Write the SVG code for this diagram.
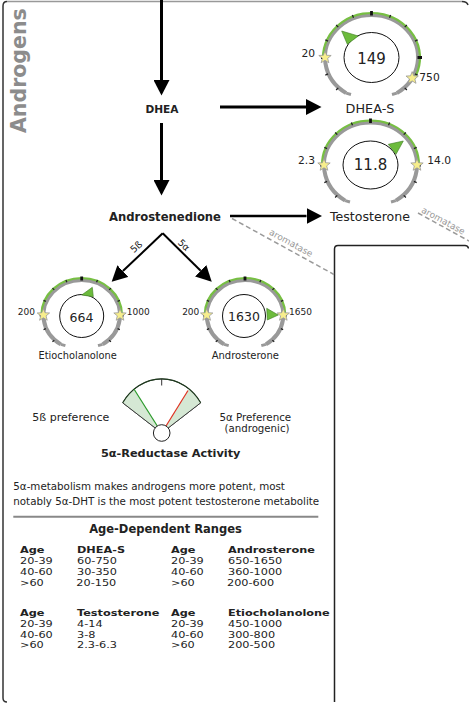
<svg xmlns="http://www.w3.org/2000/svg" width="469" height="703" viewBox="0 0 469 703">
<style>
text{font-family:"DejaVu Sans",Verdana,sans-serif;fill:#222}
.b{font-weight:bold}
.m{text-anchor:middle}
.e{text-anchor:end}
.arc{fill:none;stroke:#999;stroke-width:4}
.hook{fill:none;stroke:#999;stroke-width:3}
.grn{fill:none;stroke:#77bf43;stroke-width:2.2}
.tk{fill:none;stroke:#222;stroke-width:1.3}
.tkM{fill:none;stroke:#111;stroke-width:2.8}
.inner{fill:#fff;stroke:#111;stroke-width:1}
.needle{fill:#6cbb3c;stroke:#3d7a22;stroke-width:0.6}
.star{fill:#f7ee8c;stroke:#999;stroke-width:0.8}
.conn{fill:none;stroke:#000}
.dash{fill:none;stroke:#9a9a9a;stroke-width:1.5;stroke-dasharray:5 3}
.aro{font-size:9px;fill:#999}
.lbl{font-size:10.7px}
.sl{font-size:9px}
.tb{font-size:9.4px}
</style>
<defs>
<marker id="ah" markerUnits="userSpaceOnUse" viewBox="0 -8 15.5 16" refX="0" refY="0" markerWidth="15.5" markerHeight="16" orient="auto"><path d="M0,-8 L15.5,0 L0,8 Z" fill="#000"/></marker>
<polygon id="star" class="star" points="0,-6.5 1.646,-2.265 6.182,-2.009 2.663,0.865 3.821,5.259 0,2.8 -3.821,5.259 -2.663,0.865 -6.182,-2.009 -1.646,-2.265"/>
<g id="bigBase">
<path class="arc" d="M-25.32,35.64 A46.5,42.5 0 1 1 25.32,35.64"/>
<path class="hook" d="M-25.32,35.64 L-20.5,37 M25.32,35.64 L20.5,37"/>
</g>
<g id="bigTicks">
<path class="tk" d="M17.99,-39.73 L19.14,-42.5 M33.23,-30.41 L35.36,-32.53 M43.42,-16.46 L46.2,-17.6 M43.42,16.46 L46.2,17.6 M33.23,30.41 L35.36,32.53 M-17.99,-39.73 L-19.14,-42.5 M-33.23,-30.41 L-35.36,-32.53 M-43.42,-16.46 L-46.2,-17.6 M-43.42,16.46 L-46.2,17.6 M-33.23,30.41 L-35.36,32.53"/>
<path class="tkM" d="M0,-42 L0,-46.5 M46,0 L50.5,0 M-46,0 L-50.5,0"/>
</g>
<g id="smBase">
<path class="arc" d="M-20.86,29.35 A38.3,35 0 1 1 20.86,29.35"/>
<path class="hook" d="M-20.86,29.35 L-16.3,30.6 M20.86,29.35 L16.3,30.6"/>
</g>
<g id="smTicks">
<path class="tk" d="M14.85,-32.8 L15.81,-35.11 M27.44,-25.1 L29.2,-26.87 M35.85,-13.59 L38.16,-14.54 M35.85,13.59 L38.16,14.54 M27.44,25.1 L29.2,26.87 M-14.85,-32.8 L-15.81,-35.11 M-27.44,-25.1 L-29.2,-26.87 M-35.85,-13.59 L-38.16,-14.54 M-35.85,13.59 L-38.16,14.54 M-27.44,25.1 L-29.2,26.87"/>
<path class="tkM" d="M0,-34.5 L0,-38.5 M38,0 L42,0 M-38,0 L-42,0"/>
</g>
</defs>

<g id="frame">
<path d="M7,702 Q3,702 3,698 L3,6 Q3,1.5 7,1.5" fill="none" stroke="#333" stroke-width="1.5"/>
<path d="M7,1.5 L462,1.5" fill="none" stroke="#999" stroke-width="1.5"/>
<path d="M462,1.5 Q467,1.5 468,5" fill="none" stroke="#333" stroke-width="1.5"/>
<path d="M334.5,702 L334.5,249 Q334.5,245.5 338,245.5 L465,245.5 Q468,245.5 468.5,248.5" fill="none" stroke="#222" stroke-width="1.5"/>
</g>

<g id="title">
<text class="b" transform="translate(26,133) rotate(-90)" font-size="20.5" style="fill:#8c8c8c">Androgens</text>
</g>

<g id="connectors">
<path class="conn" stroke-width="3" d="M161.5,0 L161.5,80" marker-end="url(#ah)"/>
<path class="conn" stroke-width="3" d="M161.5,123 L161.5,180" marker-end="url(#ah)"/>
<path class="conn" stroke-width="3" d="M220,107 L306,107" marker-end="url(#ah)"/>
<path class="conn" stroke-width="2.5" d="M230,216 L306.5,216" marker-end="url(#ah)"/>
<path class="conn" stroke-width="2" d="M162.7,233.3 L122.9,271.1" marker-end="url(#ah)"/>
<path class="conn" stroke-width="2" d="M162.7,233.3 L200.7,270.8" marker-end="url(#ah)"/>
<path class="dash" d="M232,218.5 L334,274.5"/>
<path class="dash" d="M418,213 L469,241"/>
<text class="aro m" transform="translate(291,243) rotate(28.8)" y="3">aromatase</text>
<text class="aro m" transform="translate(443.3,220.8) rotate(28.7)" y="3">aromatase</text>
<text class="m" transform="translate(136.2,246.7) rotate(-43)" y="3.4" font-size="9.5">5ß</text>
<text class="m" transform="translate(184,245) rotate(44)" y="3.4" font-size="9.5">5α</text>
</g>

<g id="dhea">
<text class="b m" x="162" y="113.3" font-size="10.6">DHEA</text>
</g>

<g id="androstenedione">
<text class="b" x="109" y="221" font-size="11.6">Androstenedione</text>
</g>

<g id="dhea-s" transform="translate(371.5,57.5)">
<use href="#bigBase"/>
<path class="grn" d="M-48.5,0 A48.5,44.5 0 1 1 42.42,21.57"/>
<use href="#bigTicks"/>
<use href="#star" x="-46.5" y="0"/>
<use href="#star" x="40.67" y="20.6"/>
<ellipse class="inner" cx="0" cy="0" rx="27.5" ry="25"/>
<polygon class="needle" points="-29.8,-26.5 -24.2,-13.2 -13.2,-21.5"/>
<text class="m" x="0" y="6" font-size="15">149</text>
<text class="lbl e" x="-56.5" y="-0.8">20</text>
<text class="lbl" x="47.8" y="23.5">750</text>
<text class="m" x="-1.5" y="55" font-size="12.8">DHEA-S</text>
</g>

<g id="testosterone" transform="translate(370.5,165)">
<use href="#bigBase"/>
<path class="grn" d="M-48.5,0 A48.5,44.5 0 0 1 48.5,0"/>
<use href="#bigTicks"/>
<use href="#star" x="-46.5" y="0"/>
<use href="#star" x="46.5" y="0"/>
<ellipse class="inner" cx="0" cy="0" rx="27.5" ry="24"/>
<polygon class="needle" points="32.8,-24 17.8,-20.7 25.5,-10.7"/>
<text class="m" x="0" y="5.3" font-size="15">11.8</text>
<text class="lbl e" x="-55.5" y="-1">2.3</text>
<text class="lbl" x="56.8" y="-1">14.0</text>
<text class="m" x="-0.5" y="55.5" font-size="12.6">Testosterone</text>
</g>

<g id="etiocholanolone" transform="translate(81.7,315)">
<use href="#smBase"/>
<path class="grn" d="M-40.3,0 A40.3,37 0 0 1 40.3,0"/>
<use href="#smTicks"/>
<use href="#star" x="-38.3" y="0"/>
<use href="#star" x="38.3" y="0"/>
<ellipse class="inner" cx="0" cy="1" rx="22" ry="21.5"/>
<polygon class="needle" points="10.6,-27.7 0,-20 11.6,-18.3"/>
<text class="m" x="-0.2" y="6.5" font-size="12.5">664</text>
<text class="sl e" x="-46.7" y="0.3">200</text>
<text class="sl" x="45" y="0.3">1000</text>
<text class="m" x="-4" y="44.3" font-size="9.8">Etiocholanolone</text>
</g>

<g id="androsterone" transform="translate(245,315)">
<use href="#smBase"/>
<path class="grn" d="M-40.3,0 A40.3,37 0 0 1 40.3,0"/>
<use href="#smTicks"/>
<use href="#star" x="-38.3" y="0"/>
<use href="#star" x="38.3" y="0"/>
<ellipse class="inner" cx="-1" cy="1" rx="21.5" ry="21.5"/>
<polygon class="needle" points="33.3,0 21.7,-6.7 22.3,5"/>
<text class="m" x="-1" y="6" font-size="12.5">1630</text>
<text class="sl e" x="-45.7" y="0.3">200</text>
<text class="sl" x="44" y="0.3">1650</text>
<text class="m" x="0.3" y="44.3" font-size="10">Androsterone</text>
</g>

<g id="reductase">
<path d="M161.7,433 L122.7,402.8 A47,54 0 0 1 200.7,402.8 Z" fill="#fff" stroke="#333" stroke-width="0.9"/>
<path d="M161.7,433 L122.7,402.8 A47,54 0 0 1 134.1,389.3 Z" fill="#d5e8d4" stroke="none"/>
<path d="M161.7,433 L189,389 A47,54 0 0 1 200.7,402.8 Z" fill="#d5e8d4" stroke="none"/>
<path d="M161.7,433 L122.7,402.8 M161.7,433 L200.7,402.8" fill="none" stroke="#333" stroke-width="0.9"/>
<path d="M122.7,402.8 A47,54 0 0 1 200.7,402.8" fill="none" stroke="#1e3a1e" stroke-width="1.2"/>
<path d="M161.7,379 L161.7,385.5" stroke="#333" stroke-width="1"/>
<path d="M157.3,426 L134.1,389.3" stroke="#2a9a2a" stroke-width="1.2"/>
<path d="M166,426 L188,390.5" stroke="#e03020" stroke-width="1.2"/>
<circle cx="161.7" cy="433" r="8.3" fill="#fff" stroke="#222" stroke-width="1"/>
<text x="32.3" y="420.7" font-size="11">5ß preference</text>
<text class="m" x="255.3" y="420.7" font-size="10.3">5α Preference</text>
<text class="m" x="257" y="432.3" font-size="10.2">(androgenic)</text>
<text class="b m" x="170.7" y="457.3" font-size="11.3">5α-Reductase Activity</text>
</g>

<g id="notes">
<text x="13.3" y="490" font-size="10.3">5α-metabolism makes androgens more potent, most</text>
<text x="13.3" y="505" font-size="10.3">notably 5α-DHT is the most potent testosterone metabolite</text>
<path d="M13.3,516.7 L318.3,516.7" stroke="#888" stroke-width="2"/>
</g>

<g id="ranges">
<text class="b m" x="165.5" y="532.7" font-size="11.5">Age-Dependent Ranges</text>
<g transform="scale(1.2,1)">
<text class="b tb" x="16.67" y="553.3">Age</text>
<text class="b tb" x="64.17" y="553.3">DHEA-S</text>
<text class="b tb" x="142.5" y="553.3">Age</text>
<text class="b tb" x="190" y="553.3">Androsterone</text>
<text class="tb" x="16.67" y="564.1">20-39</text>
<text class="tb" x="64.17" y="564.1">60-750</text>
<text class="tb" x="142.5" y="564.1">20-39</text>
<text class="tb" x="190" y="564.1">650-1650</text>
<text class="tb" x="16.67" y="574.9">40-60</text>
<text class="tb" x="64.17" y="574.9">30-350</text>
<text class="tb" x="142.5" y="574.9">40-60</text>
<text class="tb" x="190" y="574.9">360-1000</text>
<text class="tb" x="16.67" y="585.7">&gt;60</text>
<text class="tb" x="63.6" y="585.7">20-150</text>
<text class="tb" x="142.5" y="585.7">&gt;60</text>
<text class="tb" x="189.2" y="585.7">200-600</text>
<text class="b tb" x="16.67" y="616">Age</text>
<text class="b tb" x="64.17" y="616">Testosterone</text>
<text class="b tb" x="142.5" y="616">Age</text>
<text class="b tb" x="190" y="616">Etiocholanolone</text>
<text class="tb" x="16.67" y="626.8">20-39</text>
<text class="tb" x="64.17" y="626.8">4-14</text>
<text class="tb" x="142.5" y="626.8">20-39</text>
<text class="tb" x="190" y="626.8">450-1000</text>
<text class="tb" x="16.67" y="637.6">40-60</text>
<text class="tb" x="64.17" y="637.6">3-8</text>
<text class="tb" x="142.5" y="637.6">40-60</text>
<text class="tb" x="190" y="637.6">300-800</text>
<text class="tb" x="16.67" y="648.4">&gt;60</text>
<text class="tb" x="64.17" y="648.4">2.3-6.3</text>
<text class="tb" x="142.5" y="648.4">&gt;60</text>
<text class="tb" x="190" y="648.4">200-500</text>
</g>
</g>
</svg>
